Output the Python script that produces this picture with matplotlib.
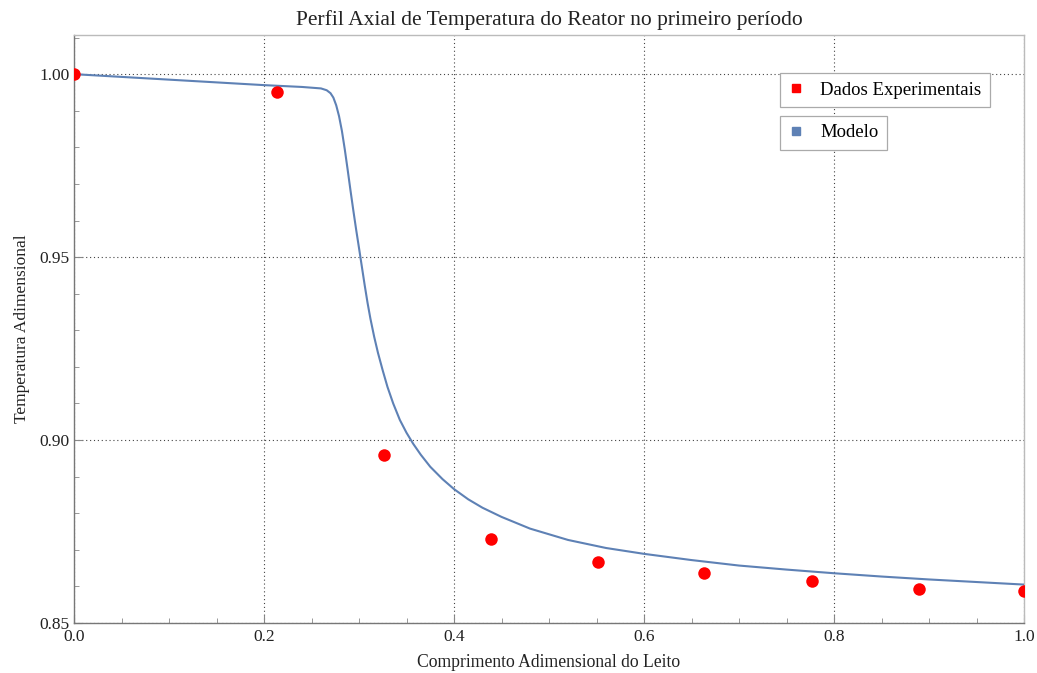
import matplotlib
matplotlib.use("Agg")
import matplotlib.pyplot as plt
from matplotlib.lines import Line2D
from matplotlib.ticker import MultipleLocator, FormatStrFormatter

# Experimental data
exp_x = [0.0, 0.2134, 0.3263, 0.439, 0.552, 0.6635, 0.7765, 0.889, 1.0]
exp_y = [1.0, 0.9951, 0.8959, 0.8729, 0.8667, 0.8636, 0.8615, 0.8594, 0.8587]

# Model curve
mod_x = [0.0, 0.1, 0.2, 0.24, 0.26, 0.266, 0.270, 0.273, 0.276, 0.279, 0.282,
         0.285, 0.288, 0.291, 0.294, 0.297, 0.300, 0.303, 0.306, 0.309, 0.312,
         0.316, 0.320, 0.325, 0.330, 0.336, 0.343, 0.350, 0.357, 0.365, 0.375,
         0.388, 0.400, 0.415, 0.430, 0.450, 0.480, 0.520, 0.560, 0.600, 0.650,
         0.700, 0.750, 0.800, 0.850, 0.900, 0.950, 1.000]
mod_y = [1.0, 0.9985, 0.9970, 0.9965, 0.9961, 0.9956, 0.9948, 0.9936, 0.9915,
         0.9885, 0.9845, 0.9795, 0.9740, 0.9683, 0.9628, 0.9575, 0.9525, 0.9474,
         0.9423, 0.9375, 0.9332, 0.9282, 0.9238, 0.9190, 0.9145, 0.9100, 0.9055,
         0.9020, 0.8990, 0.8960, 0.8927, 0.8893, 0.8866, 0.8838, 0.8815, 0.8790,
         0.8758, 0.8727, 0.8705, 0.8689, 0.8672, 0.8657, 0.8646, 0.8636, 0.8627,
         0.8619, 0.8612, 0.8605]

title = "Perfil Axial de Temperatura do Reator no primeiro período"
xlabel = "Comprimento Adimensional do Leito"
ylabel = "Temperatura Adimensional"
legend_labels = ["Dados Experimentais", "Modelo"]

plt.rcParams['font.family'] = ['Liberation Serif', 'DejaVu Serif']

fig = plt.figure(figsize=(10.37, 6.73), dpi=100)
ax = fig.add_axes([74/1037, 1-623/673, 950/1037, (623-35)/673])

ax.plot(mod_x, mod_y, color='#5E81B5', lw=1.5, zorder=3,
        solid_joinstyle='round', solid_capstyle='round')
ax.plot(exp_x, exp_y, 'o', color='#FF0000', ms=9, mec='none', zorder=4)

ax.set_xlim(0, 1.0)
ax.set_ylim(0.85, 1.0107)

ax.xaxis.set_major_locator(MultipleLocator(0.2))
ax.xaxis.set_minor_locator(MultipleLocator(0.05))
ax.yaxis.set_major_locator(MultipleLocator(0.05))
ax.yaxis.set_minor_locator(MultipleLocator(0.01))
ax.xaxis.set_major_formatter(FormatStrFormatter('%.1f'))
ax.yaxis.set_major_formatter(FormatStrFormatter('%.2f'))

ax.tick_params(which='both', direction='in', colors='#888888', labelcolor='#222222',
               top=False, right=False, labelsize=12.5)
ax.tick_params(which='major', length=6, width=0.8)
ax.tick_params(which='minor', length=3.5, width=0.6)
ax.tick_params(axis='x', pad=4)
ax.tick_params(axis='y', pad=3)

for s in ['left', 'bottom']:
    ax.spines[s].set_color('#777777')
    ax.spines[s].set_linewidth(1.0)
for s in ['top', 'right']:
    ax.spines[s].set_color('#bbbbbb')
    ax.spines[s].set_linewidth(1.0)

ax.grid(True, which='major', linestyle=(0, (1, 2.5)), color='#444444', lw=0.8)

ax.set_title(title, fontsize=15.5, color='#222222', pad=7)
ax.set_xlabel(xlabel, fontsize=12.7, color='#222222', labelpad=7)
ax.set_ylabel(ylabel, fontsize=12.5, color='#222222', labelpad=7)

h1 = Line2D([], [], marker='s', color='#FF0000', ls='none', ms=6)
h2 = Line2D([], [], marker='s', color='#5E81B5', ls='none', ms=6)
leg1 = ax.legend([h1], [legend_labels[0]], loc='upper left',
                 bbox_to_anchor=((780-74)/950, (623-73.3)/588), borderaxespad=0,
                 fancybox=False, edgecolor='#aaaaaa', framealpha=1,
                 fontsize=13.5, handlelength=0.8, handletextpad=0.9,
                 borderpad=0.45)
leg1.get_frame().set_linewidth(0.9)
ax.add_artist(leg1)
leg2 = ax.legend([h2], [legend_labels[1]], loc='upper left',
                 bbox_to_anchor=((780-74)/950, (623-115.7)/588), borderaxespad=0,
                 fancybox=False, edgecolor='#aaaaaa', framealpha=1,
                 fontsize=13.5, handlelength=0.8, handletextpad=0.9,
                 borderpad=0.45)
leg2.get_frame().set_linewidth(0.9)

fig.savefig("out.png", dpi=100, facecolor='white')
